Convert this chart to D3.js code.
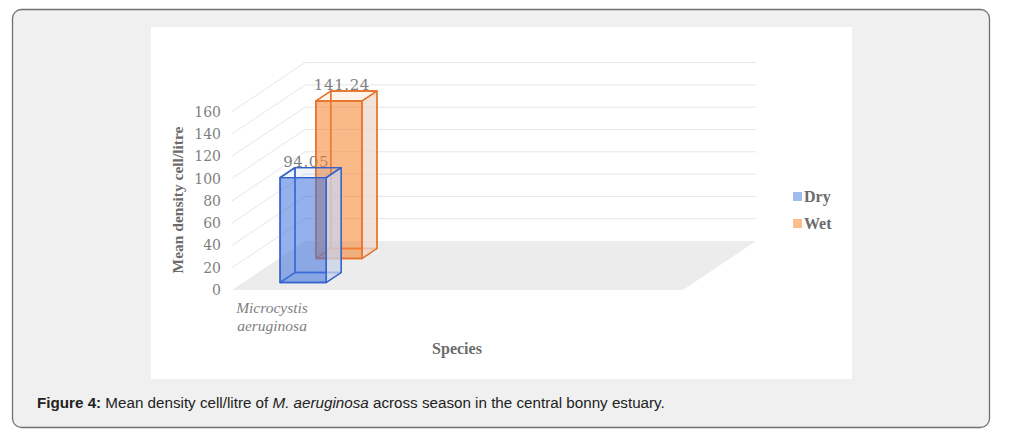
<!DOCTYPE html>
<html>
<head>
<meta charset="utf-8">
<script src="https://cdn.jsdelivr.net/npm/d3@7"></script>
<style>
  body { margin: 0; background: #fff; }
</style>
</head>
<body>
<svg id="fig" width="1012" height="439"></svg>
<script>
// Datos ------------------------------------------------------------------
const species = ["Microcystis aeruginosa"];
const seasons = ["Dry", "Wet"];
const dryValues = [94.05];
const wetValues = [141.24];
const yTicks = [0, 20, 40, 60, 80, 100, 120, 140, 160];
const seasonColors = { Dry: "#4274de", Wet: "#f5842f" };
const seasonStroke = { Dry: "#3563c9", Wet: "#e57329" };
const sideColors = { Dry: "#cbd4e8", Wet: "#eed8cf" };
const legendColors = { Dry: "#a0bdf2", Wet: "#fbbf8b" };

const svg = d3.select("#fig");

// Marco de la figura
svg.append("rect")
    .attr("x", 12.5).attr("y", 9.5)
    .attr("width", 977).attr("height", 418)
    .attr("rx", 9)
    .attr("fill", "#f0f0f0")
    .attr("stroke", "#707070")
    .attr("stroke-width", 1.3);

svg.append("rect")
    .attr("x", 151).attr("y", 27)
    .attr("width", 701).attr("height", 352)
    .attr("fill", "#fff");

// Escalas y proyección oblicua -------------------------------------------
const floorLeft = 232, floorRight = 683;
const depthX = 73, depthY = -49;

const y = d3.scaleLinear().domain([0, 160]).range([290, 111.6]);

const x = d3.scaleBand()
    .domain(species)
    .range([floorLeft, floorLeft + 120])
    .paddingInner(0)
    .paddingOuter(0.8);

const z = d3.scaleBand()
    .domain(seasons)
    .range([0, 1])
    .paddingInner(0.584)
    .paddingOuter(0.3125);

const P = (px, v, d) => [px + depthX * d, y(v) + depthY * d];
const poly = pts => "M" + pts.map(p => p.join(",")).join("L") + "Z";

// Suelo
svg.append("path")
    .attr("d", poly([P(floorLeft, 0, 0), P(floorRight, 0, 0), P(floorRight, 0, 1), P(floorLeft, 0, 1)]))
    .attr("fill", "#ececec");

// Rejilla: pared trasera y lateral
const grid = svg.append("g").attr("stroke", "#e6e6e6").attr("stroke-width", 1).attr("fill", "none");
yTicks.filter(v => v > 0).forEach(v => {
    grid.append("path").attr("d", "M" + P(floorLeft, v, 1) + "L" + P(floorRight, v, 1));
    grid.append("path").attr("d", "M" + P(floorLeft, v, 0) + "L" + P(floorLeft, v, 1));
});

// Etiquetas del eje Y
svg.append("g")
    .selectAll("text")
    .data(yTicks)
    .join("text")
    .attr("x", 221)
    .attr("y", d => y(d))
    .attr("dy", "0.36em")
    .attr("text-anchor", "end")
    .attr("font-family", "DejaVu Serif")
    .attr("font-size", 14)
    .attr("fill", "#7f7f7f")
    .text(d => d);

// Título eje Y
svg.append("text")
    .attr("transform", "translate(183,200) rotate(-90)")
    .attr("text-anchor", "middle")
    .attr("font-family", "Liberation Serif")
    .attr("font-weight", "bold")
    .attr("font-size", 15.5)
    .attr("fill", "#6b6b6b")
    .text("Mean density cell/litre");

// Barras 3D --------------------------------------------------------------
const bars = [];
species.forEach((sp, i) => {
    bars.push({ sp, season: "Wet", value: wetValues[i] });
    bars.push({ sp, season: "Dry", value: dryValues[i] });
});

// Etiquetas de datos (detrás de las barras)
svg.append("g")
    .selectAll("text")
    .data(bars)
    .join("text")
    .attr("x", d => x(d.sp) + x.bandwidth() / 2 + depthX * (z(d.season) + z.bandwidth() * 0.2))
    .attr("y", d => P(0, d.value, z(d.season) + z.bandwidth())[1] - 1)
    .attr("text-anchor", "middle")
    .attr("font-family", "DejaVu Serif")
    .attr("font-size", 15)
    .attr("letter-spacing", 0.6)
    .attr("fill", "#7f7f7f")
    .text(d => d.value.toFixed(2));

const barG = svg.append("g").attr("stroke-linejoin", "round");
bars.forEach(b => {
    const xl = x(b.sp), xr = xl + x.bandwidth();
    const d0 = z(b.season), d1 = d0 + z.bandwidth();
    const v = b.value;
    const faces = [
        { pts: [P(xl, 0, d1), P(xr, 0, d1), P(xr, v, d1), P(xl, v, d1)], fill: seasonColors[b.season], op: 0.04 },
        { pts: [P(xl, 0, d0), P(xl, 0, d1), P(xl, v, d1), P(xl, v, d0)], fill: seasonColors[b.season], op: 0.03 },
        { pts: [P(xl, 0, d0), P(xr, 0, d0), P(xr, 0, d1), P(xl, 0, d1)], fill: seasonColors[b.season], op: 0.08 },
        { pts: [P(xr, 0, d0), P(xr, 0, d1), P(xr, v, d1), P(xr, v, d0)], fill: sideColors[b.season], op: 0.75 },
        { pts: [P(xl, v, d0), P(xr, v, d0), P(xr, v, d1), P(xl, v, d1)], fill: seasonColors[b.season], op: 0.05 },
        { pts: [P(xl, 0, d0), P(xr, 0, d0), P(xr, v, d0), P(xl, v, d0)], fill: seasonColors[b.season], op: 0.55 }
    ];
    barG.selectAll(null)
        .data(faces)
        .join("path")
        .attr("d", f => poly(f.pts))
        .attr("fill", f => f.fill)
        .attr("fill-opacity", f => f.op)
        .attr("stroke", seasonStroke[b.season])
        .attr("stroke-width", 1.4);
});

// Etiqueta de categoría
const catLabel = svg.append("text")
    .attr("text-anchor", "middle")
    .attr("font-family", "Liberation Serif")
    .attr("font-style", "italic")
    .attr("font-size", 15.5)
    .attr("fill", "#808080");
species.forEach(sp => {
    const cx = x(sp) + x.bandwidth() / 2 - 20;
    sp.split(" ").forEach((w, k) => {
        catLabel.append("tspan").attr("x", cx).attr("y", 313 + k * 18).text(w);
    });
});

// Título eje X
svg.append("text")
    .attr("x", 457).attr("y", 354)
    .attr("text-anchor", "middle")
    .attr("font-family", "Liberation Serif")
    .attr("font-weight", "bold")
    .attr("font-size", 16)
    .attr("fill", "#6b6b6b")
    .text("Species");

// Leyenda
const legend = svg.append("g")
    .selectAll("g")
    .data(seasons)
    .join("g")
    .attr("transform", (d, i) => `translate(793,${192 + i * 27})`);
legend.append("rect")
    .attr("width", 9).attr("height", 9)
    .attr("fill", d => legendColors[d]);
legend.append("text")
    .attr("x", 11).attr("y", 9.5)
    .attr("font-family", "Liberation Serif")
    .attr("font-weight", "bold")
    .attr("font-size", 16)
    .attr("fill", "#6b6b6b")
    .text(d => d);

// Pie de figura
const cap = svg.append("text")
    .attr("x", 37).attr("y", 408)
    .attr("font-family", "Liberation Sans")
    .attr("font-size", 15.2)
    .attr("fill", "#222");
cap.append("tspan").attr("font-weight", "bold").text("Figure 4:");
cap.append("tspan").text(" Mean density cell/litre of ");
cap.append("tspan").attr("font-style", "italic").text("M. aeruginosa");
cap.append("tspan").text(" across season in the central bonny estuary.");
</script>
</body>
</html>
